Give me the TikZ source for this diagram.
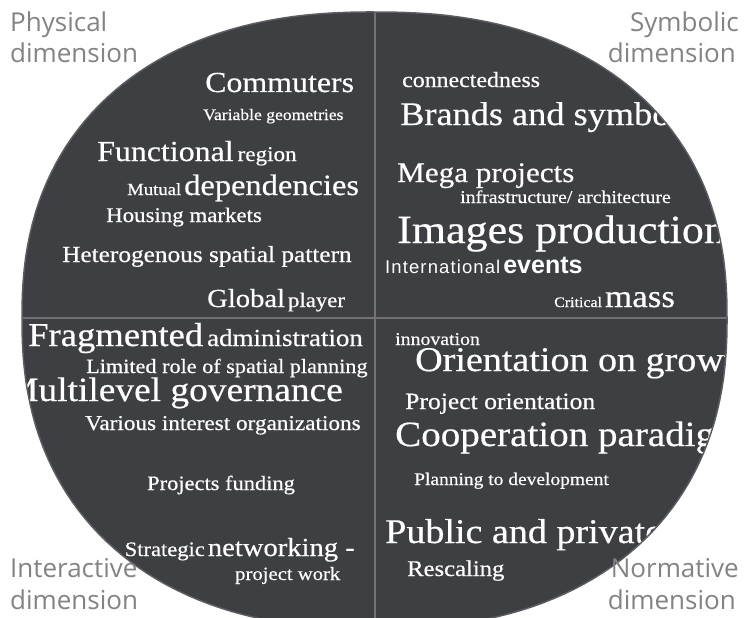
\documentclass[tikz,border=0pt]{standalone}
\usepackage{fontspec}
\newfontfamily\wfont{Liberation Serif}[FakeStretch=1.1, FakeBold=0.5]
\newfontfamily\lfont{Open Sans}
\newfontfamily\sfont{Liberation Sans}
\newcommand\fz[1]{\fontsize{#1}{#1}\selectfont}
\definecolor{disc}{HTML}{3E3F43}
\definecolor{rim}{HTML}{5C5D60}
\definecolor{divl}{HTML}{727276}
\definecolor{labgray}{HTML}{838383}
\begin{document}
\begin{tikzpicture}[x=1pt,y=-1pt,
  wt/.style={anchor=base west,inner sep=0pt,text=white,font=\wfont},
  wte/.style={wt,anchor=base east},
  lab/.style={inner sep=0pt,text=labgray,font=\lfont\fz{26}},
]
\useasboundingbox (0,0) rectangle (744,618);
\fill[white] (0,0) rectangle (744,618);
\fill[disc] plot[domain=0.5:359.5, samples=180, variable=\t] ({374.5+352.5*sign(cos(\t))*pow(abs(cos(\t)),0.87)}, {318+(sin(\t)>0 ? 311 : 306)*sign(sin(\t))*pow(abs(sin(\t)),0.87)}) -- cycle;
\begin{scope}
\clip plot[domain=0.5:359.5, samples=180, variable=\t] ({374.5+352.5*sign(cos(\t))*pow(abs(cos(\t)),0.87)}, {318+(sin(\t)>0 ? 311 : 306)*sign(sin(\t))*pow(abs(sin(\t)),0.87)}) -- cycle;
\draw[divl, line width=2.5pt] (375,0) -- (375,640);
\draw[divl, line width=2.5pt] (0,318) -- (744,318);
% physical
\node[wt] (commuters) at (205,92) {\fz{29}Commuters};
\node[wt] (vargeo) at (203,120) {\fz{16}Variable geometries};
\node[wt] (funcreg) at (97,161) {{\fz{29}Functional}\hspace{4pt}{\fz{21}region}};
\node[wt] (mutdep) at (127,195) {{\fz{17}Mutual}\hspace{3pt}{\fz{29.5}dependencies}};
\node[wt] (housing) at (106,222) {\fz{20.8}Housing markets};
\node[wt] (hetero) at (62,262) {\fz{23}Heterogenous spatial pattern};
\node[wt] (global) at (207,307) {{\fz{26}Global}\hspace{3pt}{\fz{20.7}player}};
% symbolic
\node[wt] (connect) at (402,87) {\fz{21.7}connectedness};
\node[wt] (brands) at (400,125) {\fz{33}Brands and symbols};
\node[wt] (mega) at (397,182) {\fz{28.3}Mega projects};
\node[wt] (infra) at (460,203) {\fz{18}infrastructure/ architecture};
\node[wt] (images) at (397,243) {\fz{40}Images production};
\node[wt,font=\sfont] (intl) at (385,273) {{\fz{18.5}\addfontfeature{LetterSpace=6}International}\hspace{3pt}{\fz{25}\bfseries events}};
\node[wt] (critmass) at (554,307) {{\fz{14.5}Critical}\hspace{3pt}{\fz{31.8}mass}};
% interactive
\node[wt] (frag) at (28,346) {{\fz{33.3}Fragmented}\hspace{4pt}{\fz{24.5}administration}};
\node[wt] (limited) at (86,373) {\fz{20.2}Limited role of spatial planning};
\node[wte] (multi) at (343,401) {\fz{34}Multilevel governance};
\node[wt] (various) at (85,430) {\fz{21.1}Various interest organizations};
\node[wt] (funding) at (147,490) {\fz{20.4}Projects funding};
\node[wte] (strat) at (355,556) {{\fz{20.5}Strategic}\hspace{3pt}{\fz{26}networking -}};
\node[wt] (pwork) at (235,580) {\fz{18.8}project work};
% normative
\node[wt] (innov) at (395,345) {\fz{18}innovation};
\node[wt] (orient) at (415,371) {\fz{34.6}Orientation on growth};
\node[wt] (porient) at (405,409) {\fz{23.3}Project orientation};
\node[wt] (coop) at (395,446) {\fz{35.5}Cooperation paradigm};
\node[wt] (plan) at (414,485) {\fz{17.7}Planning to development};
\node[wt] (public) at (385,543) {\fz{34.6}Public and private actors};
\node[wt] (rescale) at (407,576) {\fz{22.4}Rescaling};
\end{scope}
\draw[rim, line width=1.5pt] plot[domain=0.5:359.5, samples=180, variable=\t] ({374.5+352.5*sign(cos(\t))*pow(abs(cos(\t)),0.87)}, {318+(sin(\t)>0 ? 311 : 306)*sign(sin(\t))*pow(abs(sin(\t)),0.87)}) -- cycle;
\node[lab,anchor=base west] (phys1) at (10,32) {Physical};
\node[lab,anchor=base west] (phys2) at (10,63) {dimension};
\node[lab,anchor=base east] (sym1) at (739,32) {Symbolic};
\node[lab,anchor=base east] (sym2) at (736,63) {dimension};
\node[lab,anchor=base west] (int1) at (10,577) {Interactive};
\node[lab,anchor=base west] (int2) at (10,609) {dimension};
\node[lab,anchor=base east] (norm1) at (739,577) {Normative};
\node[lab,anchor=base east] (norm2) at (736,609) {dimension};
\end{tikzpicture}
\end{document}
